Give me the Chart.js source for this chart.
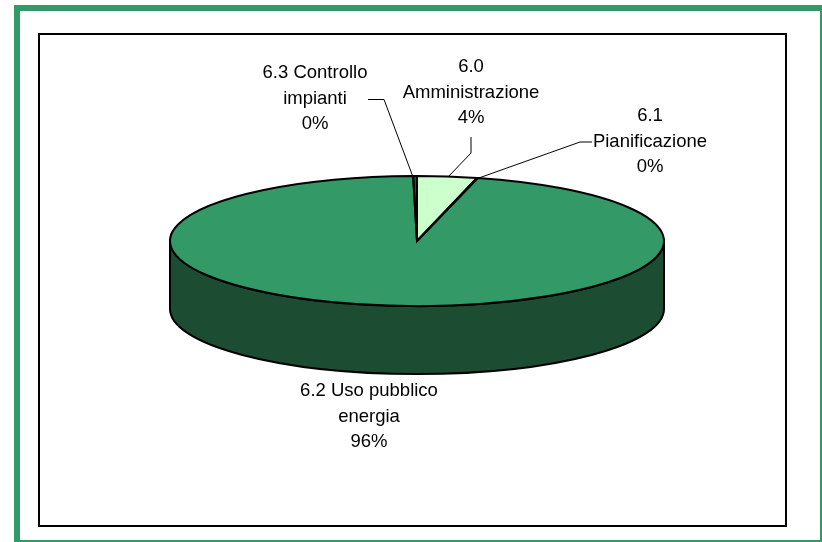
<!DOCTYPE html>
<html>
<head>
<meta charset="utf-8">
<script src="https://cdn.jsdelivr.net/npm/chart.js@4"></script>
<style>
html, body { margin: 0; padding: 0; background: #fff; overflow: hidden; }
canvas { display: block; }
</style>
</head>
<body>
<canvas id="myChart" width="822" height="542"></canvas>
<script>
const categories = ["6.0 Amministrazione", "6.1 Pianificazione", "6.2 Uso pubblico energia", "6.3 Controllo impianti"];
const values = [3.9, 0.05, 95.8, 0.25];
const sliceColors = ["#CCFFCC", "#FFFFCC", "#339966", "#006633"];
const wallColor = "#1C4D33";
const labelLines = [
    ["6.0", "Amministrazione"],
    ["6.1", "Pianificazione"],
    ["6.2 Uso pubblico", "energia"],
    ["6.3 Controllo", "impianti"]
];

// label anchors and leader lines, in page pixels
const labelPos = [[471, 67], [650, 116], [369, 391], [315, 73]];
const leaders = [
    [[471, 137], [471, 153], [448, 177]],
    [[476, 179], [580, 142], [592, 142]],
    null,
    [[368, 99.5], [384, 99.5], [413, 177]]
];
const squash = 65 / 247;
const depth = 68;
const lineGap = 25.5;

const pie3d = {
    id: "pie3d",
    beforeDraw(chart) {
        const c = chart.ctx;
        c.save();
        c.fillStyle = "#fff";
        c.fillRect(0, 0, 822, 542);
        c.fillStyle = "#339966";
        c.fillRect(14, 5, 808, 6);
        c.fillRect(14, 5, 6, 537);
        c.fillRect(820, 5, 2, 537);
        c.fillRect(14, 540, 808, 2);
        c.strokeStyle = "#000";
        c.lineWidth = 2;
        c.strokeRect(39, 34, 747, 492);
        c.restore();
    },
    beforeDatasetsDraw(chart) {
        const c = chart.ctx;
        const el = chart.getDatasetMeta(0).data[0];
        const r = el.outerRadius;
        const ry = r * squash;
        // side wall of the disc
        c.save();
        c.beginPath();
        c.ellipse(el.x, el.y, r, ry, 0, Math.PI, 0, true);
        c.lineTo(el.x + r, el.y + depth);
        c.ellipse(el.x, el.y + depth, r, ry, 0, 0, Math.PI);
        c.closePath();
        c.fillStyle = wallColor;
        c.fill();
        c.lineWidth = 2;
        c.strokeStyle = "#000";
        c.stroke();
        c.restore();
        // top face: the library's arcs drawn through a flattened context
        c.save();
        c.translate(el.x, el.y);
        c.scale(1, squash);
        c.translate(-el.x, -el.y);
    },
    afterDatasetsDraw(chart) {
        const c = chart.ctx;
        c.restore();
        const arcs = chart.getDatasetMeta(0).data;
        c.save();
        c.strokeStyle = "#000";
        c.lineWidth = 2;
        c.lineJoin = "miter";
        arcs.forEach((a) => {
            const ry = a.outerRadius * squash;
            c.beginPath();
            c.moveTo(a.x, a.y);
            c.ellipse(a.x, a.y, a.outerRadius, ry, 0, a.startAngle, a.endAngle);
            c.closePath();
            c.stroke();
        });
        // leader lines
        c.lineWidth = 1;
        leaders.forEach((pts) => {
            if (!pts) return;
            c.beginPath();
            pts.forEach((p, i) => (i ? c.lineTo(p[0], p[1]) : c.moveTo(p[0], p[1])));
            c.stroke();
        });
        // labels
        const total = values.reduce((a, b) => a + b, 0);
        c.fillStyle = "#000";
        c.font = '18.5px "Liberation Sans", Arial, sans-serif';
        c.textAlign = "center";
        c.textBaseline = "middle";
        labelLines.forEach((lines, i) => {
            const all = lines.concat(Math.round(values[i] / total * 100) + "%");
            all.forEach((t, j) => c.fillText(t, labelPos[i][0], labelPos[i][1] + j * lineGap));
        });
        c.restore();
    }
};

new Chart(document.getElementById("myChart").getContext("2d"), {
    type: "pie",
    data: {
        labels: categories,
        datasets: [{
            data: values,
            backgroundColor: sliceColors,
            borderWidth: 0
        }]
    },
    options: {
        responsive: false,
        animation: false,
        radius: 247,
        layout: { padding: { left: 12, bottom: 60 } },
        plugins: { legend: { display: false }, tooltip: { enabled: false } }
    },
    plugins: [pie3d]
});
</script>
</body>
</html>
